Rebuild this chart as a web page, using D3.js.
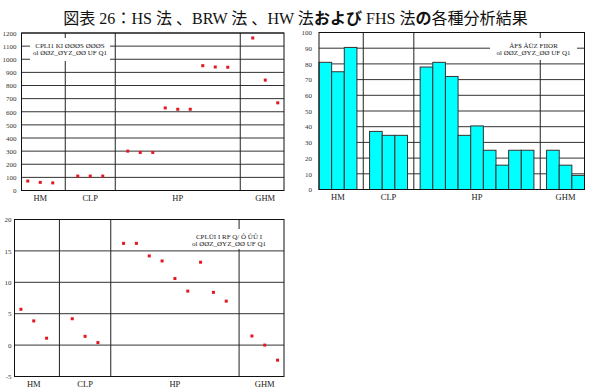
<!DOCTYPE html>
<html>
<head>
<meta charset="utf-8">
<script src="https://cdn.jsdelivr.net/npm/d3@7"></script>
<style>
  body { margin: 0; background: #fff; }
  svg { display: block; }
</style>
</head>
<body>
<div id="chart"></div>
<script>
// groups and how many items each one has
const groups = ['HM', 'CLP', 'HP', 'GHM'];
const groupSizes = [3, 3, 9, 3];

// panel 1: red points (0-1200)
const values1 = [72, 62, 58, 110, 110, 110, 300, 290, 290, 629, 619, 619, 951, 941, 939, 1162, 841, 668];
const ticks1 = [0, 100, 200, 300, 400, 500, 600, 700, 800, 900, 1000, 1100, 1200];
const legend1 = ['CPLI1 KI ØØØS ØØØS', 'ol ØØZ_ØYZ_ØØ UF Q1'];

// panel 2: cyan bars (0-100)
const values2 = [81, 75, 90.5, 37, 34.5, 34.5, 78, 81, 72, 34.5, 40.5, 25, 15.5, 25, 25, 25, 15.5, 9];
const ticks2 = [0, 10, 20, 30, 40, 50, 60, 70, 80, 90, 100];
const legend2 = ['ÅF$ ÅÜZ FIIOR', 'ol ØØZ_ØYZ_ØØ UF Q1'];

// panel 3: red points (-5-20)
const values3 = [5.7, 3.85, 1.1, 4.2, 1.4, 0.4, 16.2, 16.2, 14.2, 13.4, 10.6, 8.6, 13.2, 8.4, 7.0, 1.45, 0, -2.4];
const ticks3 = [-5, 0, 5, 10, 15, 20];
const legend3 = ['CPLÜI I RF Q/ Ô ÛÛ I', 'ol ØØZ_ØYZ_ØØ UF Q1'];

const W = 591, H = 389;
const serif = '"Liberation Serif", "DejaVu Serif", serif';

const svg = d3.select('#chart').append('svg')
  .attr('width', W).attr('height', H);

// build slot list: items of each group, then one empty slot as separator
function buildSlots(values) {
  const slots = [];
  let k = 0;
  groups.forEach((g, gi) => {
    for (let i = 0; i < groupSizes[gi]; i++) {
      slots.push({ key: g + '-' + i, group: g, idx: i, value: values[k++] });
    }
    if (gi < groups.length - 1) slots.push({ key: 'sep-' + gi, sep: true });
  });
  return slots;
}

function drawPanel(opt) {
  const slots = buildSlots(opt.values);
  const x = d3.scaleBand().domain(slots.map(d => d.key))
    .range([opt.left, opt.right]).padding(0);
  const y = d3.scaleLinear().domain(opt.domain).range([opt.bottom, opt.top]);
  const g = svg.append('g');

  // horizontal grid lines
  g.selectAll('line.grid').data(opt.ticks).enter().append('line')
    .attr('x1', opt.left).attr('x2', opt.right)
    .attr('y1', d => y(d)).attr('y2', d => y(d))
    .attr('stroke', '#333').attr('stroke-width', 1);

  // vertical separators between groups
  g.selectAll('line.sep').data(slots.filter(d => d.sep)).enter().append('line')
    .attr('x1', d => x(d.key) + x.bandwidth() / 2)
    .attr('x2', d => x(d.key) + x.bandwidth() / 2)
    .attr('y1', opt.top).attr('y2', opt.bottom)
    .attr('stroke', '#222').attr('stroke-width', 1);

  // legend box (white, hides the lines behind it)
  const lg = opt.legend;
  g.append('rect')
    .attr('x', lg.x).attr('y', lg.y).attr('width', lg.w).attr('height', lg.h)
    .attr('fill', '#fff');
  g.selectAll('text.leg').data(opt.legendText).enter().append('text')
    .attr('x', lg.x + lg.w / 2)
    .attr('y', (d, i) => lg.y + 10 + i * 7)
    .attr('text-anchor', 'middle')
    .style('font-family', serif).style('font-size', '7px')
    .attr('fill', '#222')
    .text(d => d);

  const items = slots.filter(d => !d.sep);
  if (opt.type === 'bar') {
    g.selectAll('rect.bar').data(items).enter().append('rect')
      .attr('x', d => x(d.key)).attr('width', x.bandwidth())
      .attr('y', d => y(d.value)).attr('height', d => y(0) - y(d.value))
      .attr('fill', '#00ffff').attr('stroke', '#333').attr('stroke-width', 1);
  } else {
    g.selectAll('rect.pt').data(items).enter().append('rect')
      .attr('x', d => x(d.key) + x.bandwidth() / 2 - 1.5)
      .attr('y', d => y(d.value) - 1.5)
      .attr('width', 3).attr('height', 3)
      .attr('fill', '#e4161e');
  }

  // plot frame
  g.append('rect')
    .attr('x', opt.left).attr('y', opt.top)
    .attr('width', opt.right - opt.left).attr('height', opt.bottom - opt.top)
    .attr('fill', 'none').attr('stroke', '#111').attr('stroke-width', 1);

  // y axis labels (plain numbers, no thousands separator)
  const yAxis = d3.axisLeft(y).tickValues(opt.ticks).tickSize(0)
    .tickPadding(opt.labelPad).tickFormat(d => String(d));
  const ya = g.append('g').attr('transform', `translate(${opt.left},0)`).call(yAxis);
  ya.select('.domain').remove();
  ya.selectAll('text').style('font-family', serif).style('font-size', '7px').attr('fill', '#333');

  // x group labels, under the middle item of each group
  const labelKeys = groups.map((gname, gi) => gname + '-' + Math.floor(groupSizes[gi] / 2));
  g.selectAll('text.xl').data(groups).enter().append('text')
    .attr('x', (d, i) => x(labelKeys[i]) + x.bandwidth() / 2)
    .attr('y', opt.bottom + 10)
    .attr('text-anchor', 'middle')
    .style('font-family', serif).style('font-size', '8.5px')
    .attr('fill', '#222')
    .text(d => d);
}

drawPanel({
  type: 'point', values: values1, domain: [0, 1200], ticks: ticks1,
  left: 21.5, right: 284, top: 33, bottom: 190.5, labelPad: 5,
  legend: { x: 30, y: 38, w: 80, h: 23 }, legendText: legend1
});

drawPanel({
  type: 'bar', values: values2, domain: [0, 100], ticks: ticks2,
  left: 319, right: 584.5, top: 32.5, bottom: 189.5, labelPad: 7,
  legend: { x: 490, y: 38, w: 87, h: 22 }, legendText: legend2
});

drawPanel({
  type: 'point', values: values3, domain: [-5, 20], ticks: ticks3,
  left: 14.5, right: 284, top: 219.5, bottom: 376.5, labelPad: 3,
  legend: { x: 185, y: 229, w: 88, h: 20 }, legendText: legend3
});

// title with bold gothic kana parts
const title = svg.append('text')
  .attr('x', W / 2).attr('y', 24)
  .attr('text-anchor', 'middle')
  .style('font-family', serif + ', "Noto Sans CJK JP"')
  .style('font-size', '17px')
  .attr('fill', '#111');
const parts = [
  ['図表 26：HS 法 、BRW 法 、HW 法', 'normal'],
  ['および', 'bold'],
  [' FHS 法', 'normal'],
  ['の', 'bold'],
  ['各種分析結果', 'normal']
];
parts.forEach(p => {
  title.append('tspan').style('font-weight', p[1])
    .style('font-family', p[1] === 'bold' ? '"Noto Sans CJK JP"' : null)
    .text(p[0]);
});
const tw = title.node().getComputedTextLength();
title.style('font-size', (17 * 465 / tw).toFixed(2) + 'px');
</script>
</body>
</html>
